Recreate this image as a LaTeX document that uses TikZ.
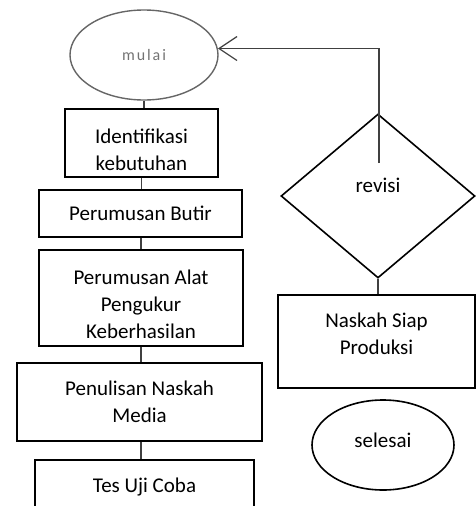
\documentclass[tikz,border=0pt]{standalone}
\usepackage{fontspec}
\setmainfont{Carlito}
\newfontfamily\mulaifont[LetterSpace=12]{Carlito}
\usetikzlibrary{shapes.geometric,arrows.meta}
\begin{document}
\begin{tikzpicture}[x=1pt,y=-1pt,
  every node/.style={font=\fontsize{21}{27}\selectfont},
  box/.style={draw=black, line width=1.6pt, rectangle, inner sep=0pt, align=center},
  txt/.style={inner sep=0pt, align=center},
  conn/.style={draw=black!75, line width=1.2pt}]
\useasboundingbox (0,0) rectangle (476,506);
\clip (0,0) rectangle (476,506);
% left column
\node[ellipse, draw=black!60, line width=1.4pt, minimum width=148pt, minimum height=90pt,
  inner sep=0pt, text=black!55, font=\mulaifont\fontsize{16}{18}\selectfont] (mulai) at (144,55) {mulai};
\node[box, minimum width=153pt, minimum height=68pt] (ident) at (141.5,143) {};
\node[txt] (identt) at (141.5,150) {Identifikasi\\kebutuhan};
\node[box, minimum width=203pt, minimum height=47pt] (butir) at (140.5,213.5) {Perumusan Butir};
\node[box, minimum width=204pt, minimum height=96pt] (alat) at (141,298) {};
\node[txt] (alatt) at (141,304.5) {Perumusan Alat\\Pengukur\\Keberhasilan};
\node[box, minimum width=245pt, minimum height=78pt] (tulis) at (139.5,402) {};
\node[txt] (tulist) at (139.5,401.5) {Penulisan Naskah\\Media};
\node[box, minimum width=219pt, minimum height=80pt, anchor=north] (tes) at (144.5,459)
  {\raisebox{30pt}{Tes Uji Coba}};
% right column
\node[diamond, draw=black, line width=1.6pt, minimum width=194pt, minimum height=164pt,
  inner sep=0pt] (revisi) at (378,196) {\raisebox{21pt}{revisi}};
\node[box, minimum width=197pt, minimum height=93pt] (naskah) at (376.5,341.5) {};
\node[txt] (naskaht) at (376.5,333.5) {Naskah Siap\\Produksi};
\node[ellipse, draw=black, line width=1.6pt, minimum width=142pt, minimum height=90pt,
  inner sep=0pt] (selesai) at (383,445) {\raisebox{9pt}{selesai}};
% connectors
\draw[conn] (mulai.south) -- (mulai.south |- ident.north);
\draw[conn] (ident.south) -- (ident.south |- butir.north);
\draw[conn] (alat.north |- butir.south) -- (alat.north);
\draw[conn] (alat.south) -- (alat.south |- tulis.north);
\draw[conn] (alat.south |- tulis.south) -- (alat.south |- tes.north);
\draw[conn] (revisi.south) -- (revisi.south |- naskah.north);
\coordinate (fb) at (379,163);
\draw[conn, -{Straight Barb[length=18pt,width=24pt]}] (fb) -- (fb |- mulai.5) -- (mulai.5);
\end{tikzpicture}
\end{document}
